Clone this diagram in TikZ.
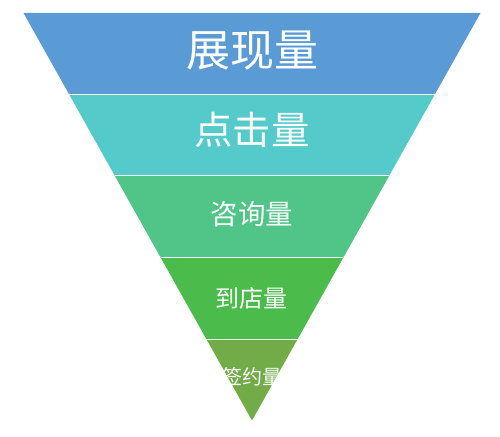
\documentclass[tikz,border=0pt]{standalone}
\usepackage{fontspec}
\newfontfamily\cjk{Noto Sans CJK SC}
\usepackage{xcolor}
\usepackage{tikz}
\usetikzlibrary{calc}
\definecolor{fnShow}{HTML}{5B9BD5}
\definecolor{fnClick}{HTML}{55CACB}
\definecolor{fnAsk}{HTML}{51C488}
\definecolor{fnVisit}{HTML}{4BBB4B}
\definecolor{fnSign}{HTML}{71AC48}
\tikzset{
  fn diagram/.style={x=1pt, y=-1pt, line join=round},
  fn divider/.style={draw=white, line width=1pt},
  fn label/.style={text=white, inner sep=0pt, anchor=center},
}
\newcommand{\fnsize}[1]{\cjk\fontsize{#1}{#1}\selectfont}

\begin{document}
\begin{tikzpicture}[fn diagram]
\useasboundingbox (0,0) rectangle (500,436);
\coordinate (apex) at (252,420.5);
\coordinate (tl) at (23.5,13);
\coordinate (tr) at (480.5,13);
% funnel bands, top to bottom
\foreach \t/\b/\col in {1/0.8/fnShow,0.8/0.6/fnClick,0.6/0.4/fnAsk,0.4/0.2/fnVisit,0.2/0/fnSign}{
  \fill[\col] ($(apex)!\t!(tl)$) -- ($(apex)!\t!(tr)$) -- ($(apex)!\b!(tr)$) -- ($(apex)!\b!(tl)$) -- cycle;
}
\foreach \t in {0.8,0.6,0.4,0.2}{
  \draw[fn divider] ($(apex)!\t!(tl)$) -- ($(apex)!\t!(tr)$);
}
\node[fn label, font=\fnsize{44}] (show) at (252,51) {展现量};
\node[fn label, font=\fnsize{38.5}] (click) at (252,130) {点击量};
\node[fn label, font=\fnsize{27.5}] (ask) at (252,214.5) {咨询量};
\node[fn label, font=\fnsize{24}] (visit) at (251.5,298) {到店量};
\node[fn label, font=\fnsize{20}] (sign) at (252,377) {签约量};
\end{tikzpicture}
\end{document}
